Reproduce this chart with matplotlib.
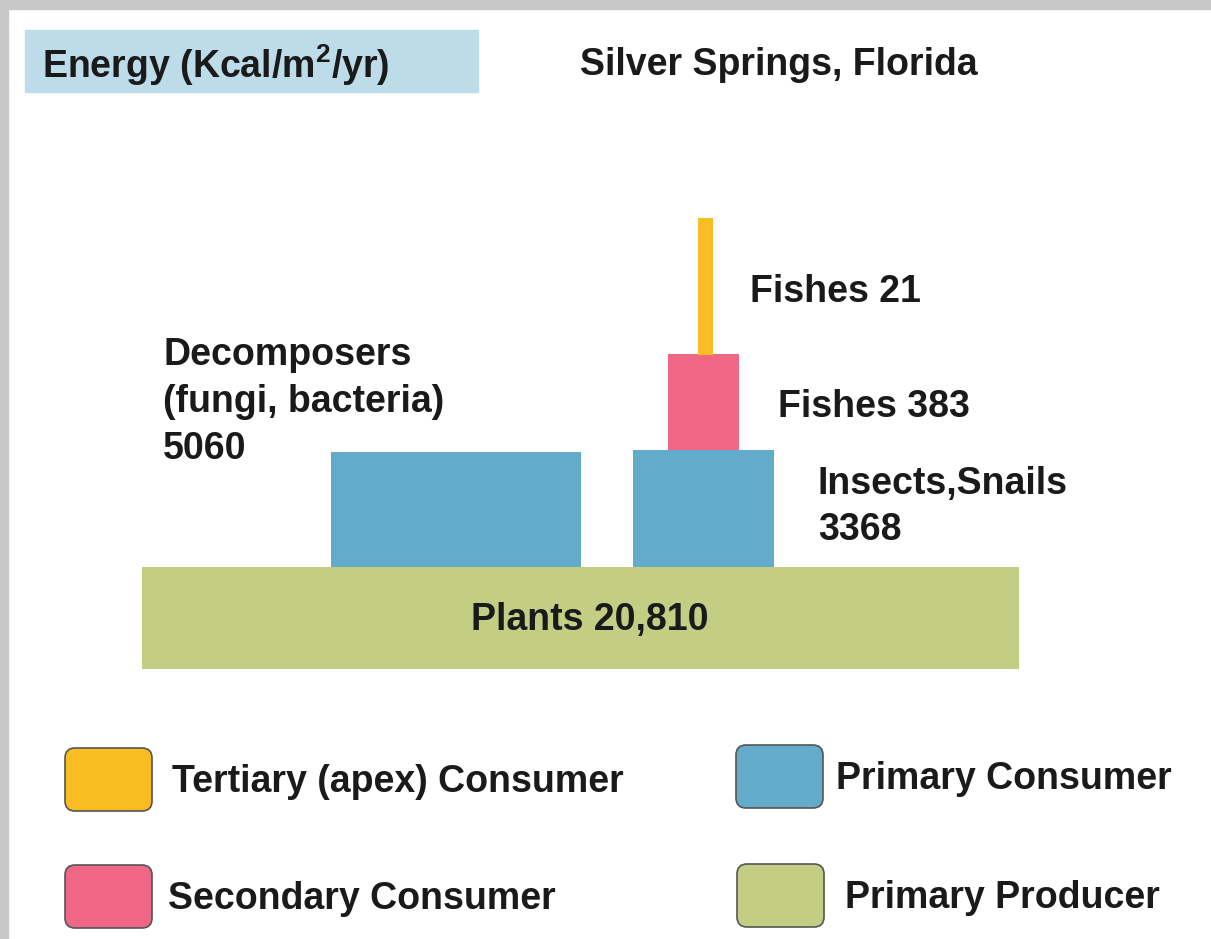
import matplotlib.pyplot as plt
from matplotlib.patches import FancyBboxPatch, Rectangle

plt.rcParams['mathtext.fontset'] = 'custom'
plt.rcParams['mathtext.bf'] = 'Liberation Sans:bold'
plt.rcParams['mathtext.rm'] = 'Liberation Sans:bold'

# data
levels = ['Plants', 'Decomposers', 'Insects,Snails', 'Fishes 383', 'Fishes 21']
energy = [20810, 5060, 3368, 383, 21]
level_colors = ['#c3cd84', '#62abcb', '#62abcb', '#f06786', '#f9bd23']

legend_labels = ['Tertiary (apex) Consumer', 'Secondary Consumer',
                 'Primary Consumer', 'Primary Producer']
legend_colors = ['#f9bd23', '#f06786', '#62abcb', '#c3cd84']

# layout in pixel units (left, width, top, height)
bar_left = [142, 331, 633, 668, 698]
bar_width = [877, 250, 141, 71, 15]
bar_top = [567, 452, 450, 354, 218]
bar_height = [102, 115, 117, 96, 137]

W, H = 1211, 939
fig = plt.figure(figsize=(W / 100, H / 100), dpi=100)
ax = fig.add_axes([0, 0, 1, 1])
ax.set_xlim(0, W)
ax.set_ylim(H, 0)
ax.axis('off')

# shadow frame
ax.add_patch(Rectangle((0, 0), W, 9, color='#c8c8c8', zorder=0))
ax.add_patch(Rectangle((0, 0), 8, H, color='#c8c8c8', zorder=0))

txt = dict(family='Liberation Sans', weight='bold', fontsize=27,
           color='#1a1a1a', va='center')

# header
ax.add_patch(Rectangle((25, 30), 453, 62, color='#bcdce9', zorder=1))
ax.text(42, 65, 'Energy (Kcal/m$^\\mathbf{2}$/yr)', zorder=2, **txt)
ax.text(580, 65, 'Silver Springs, Florida', **txt)

# pyramid blocks
ax.bar(bar_left, bar_height, width=bar_width, bottom=bar_top, align='edge',
       color=level_colors, linewidth=0, zorder=2)

ax.text(590, 620, f'Plants {energy[0]:,}', ha='center', zorder=3, **txt)
ax.text(163, 402, f'Decomposers\n(fungi, bacteria)\n{energy[1]}',
        linespacing=1.38, **txt)
ax.text(818, 507, f'Insects,Snails\n{energy[2]}', linespacing=1.38, **txt)
ax.text(778, 407, f'Fishes {energy[3]}', **txt)
ax.text(750, 292, f'Fishes {energy[4]}', **txt)

# legend
leg_x = [65, 65, 736, 737]
leg_y = [748, 865, 745, 864]
leg_tx = [172, 168, 836, 845]
for lab, col, x, y, tx in zip(legend_labels, legend_colors, leg_x, leg_y, leg_tx):
    ax.add_patch(FancyBboxPatch((x, y), 87, 63,
                                boxstyle='round,pad=0,rounding_size=10',
                                facecolor=col, edgecolor='#555555',
                                linewidth=1.2, zorder=2))
    ax.text(tx, y + 34, lab, **txt)

fig.savefig('out.png', dpi=100)
